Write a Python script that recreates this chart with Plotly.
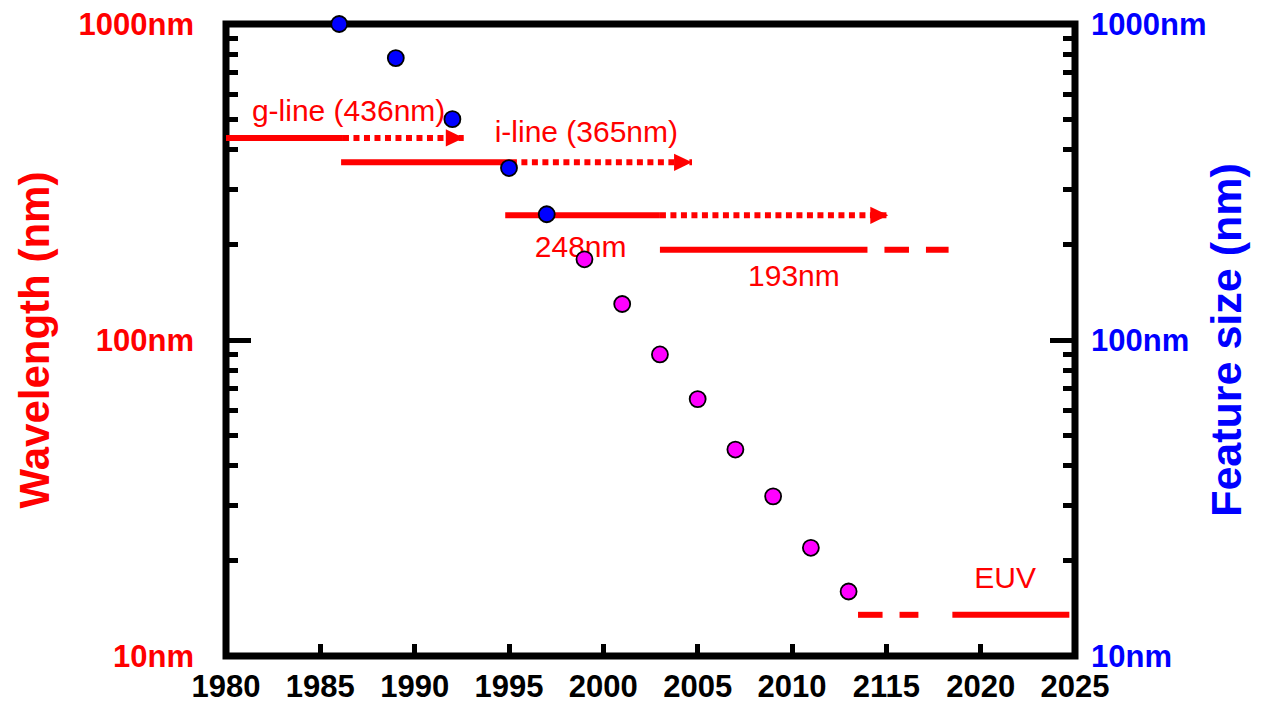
import plotly.graph_objects as go

# Minimum feature size by year (nm)
years_blue = [1986, 1989, 1992, 1995, 1997]
size_blue = [1000, 780, 500, 350, 250]
years_magenta = [1999, 2001, 2003, 2005, 2007, 2009, 2011, 2013]
size_magenta = [180, 130, 90, 65, 45, 32, 22, 16]

# Exposure wavelengths (nm) and the years each one spans
g_line_nm = 436
g_solid = [1980, 1986.2]
g_dotted = [1986.2, 1992.6]

i_line_nm = 365
i_solid = [1986.1, 1995.1]
i_dotted = [1995.1, 2004.7]

krf_nm = 248
krf_solid = [1994.8, 2003.0]
krf_dotted = [2003.0, 2015.1]

arf_nm = 193
arf_solid = [2003.0, 2014.0]
arf_dashes = [2014.9, 2016.2, None, 2017.1, 2018.3]

euv_nm = 13.5
euv_dashes = [2013.5, 2014.8, None, 2015.7, 2016.7]
euv_solid = [2018.5, 2024.7]

# Text labels: (text, year, nm)
label_text = ["g-line (436nm)", "i-line (365nm)", "248nm", "193nm", "EUV"]
label_year = [1986.5, 1999.1, 1998.8, 2010.1, 2021.3]
label_nm = [522, 446, 194, 156, 17.3]

# Axis ticks
x_tickvals = [1980, 1985, 1990, 1995, 2000, 2005, 2010, 2015, 2020, 2025]
x_ticktext = ["1980", "1985", "1990", "1995", "2000", "2005", "2010", "2115", "2020", "2025"]
y_tickvals = [10, 100, 1000]
y_ticktext = ["10nm", "100nm", "1000nm"]
y_minor = [20, 30, 40, 50, 60, 70, 80, 90, 200, 300, 400, 500, 600, 700, 800, 900]

RED = "#ff0000"
BLUE = "#0000ff"
MAGENTA = "#ff00ff"
FONT = "Liberation Sans, Arial, sans-serif"
LINE_W = 6
ARROW_LEN = 0.95      # arrowhead length in years
ARROW_SPREAD = 1.065  # arrowhead half-height as a log-scale factor

fig = go.Figure()


def solid(xs, nm):
    fig.add_trace(go.Scatter(
        x=xs, y=[None if x is None else nm for x in xs], mode="lines",
        line=dict(color=RED, width=LINE_W), hoverinfo="skip",
        showlegend=False, connectgaps=False))


def dotted_arrow(xs, nm):
    fig.add_trace(go.Scatter(
        x=xs, y=[nm, nm], mode="lines",
        line=dict(color=RED, width=LINE_W, dash="6px,4.5px"),
        hoverinfo="skip", showlegend=False))
    tip = xs[-1]
    fig.add_trace(go.Scatter(
        x=[tip, tip - ARROW_LEN, tip - ARROW_LEN, tip],
        y=[nm, nm * ARROW_SPREAD, nm / ARROW_SPREAD, nm],
        mode="lines", fill="toself", fillcolor=RED,
        line=dict(color=RED, width=0), hoverinfo="skip", showlegend=False))


solid(g_solid, g_line_nm)
dotted_arrow(g_dotted, g_line_nm)
solid(i_solid, i_line_nm)
dotted_arrow(i_dotted, i_line_nm)
solid(krf_solid, krf_nm)
dotted_arrow(krf_dotted, krf_nm)
solid(arf_solid, arf_nm)
solid(arf_dashes, arf_nm)
solid(euv_dashes, euv_nm)
solid(euv_solid, euv_nm)

# Labels sit beneath the feature-size markers
fig.add_trace(go.Scatter(
    x=label_year, y=label_nm, mode="text", text=label_text,
    textposition="middle center",
    textfont=dict(family=FONT, size=30, color=RED),
    hoverinfo="skip", showlegend=False, cliponaxis=False))

fig.add_trace(go.Scatter(
    x=years_blue, y=size_blue, mode="markers", yaxis="y2",
    marker=dict(size=16, color=BLUE, line=dict(color="black", width=1.8)),
    showlegend=False, cliponaxis=False))
fig.add_trace(go.Scatter(
    x=years_magenta, y=size_magenta, mode="markers", yaxis="y2",
    marker=dict(size=16, color=MAGENTA, line=dict(color="black", width=1.8)),
    showlegend=False, cliponaxis=False))

tick_common = dict(
    ticks="inside", tickwidth=5, tickcolor="black",
    showgrid=False, zeroline=False, showline=False, automargin=False,
)

fig.update_layout(
    width=1269, height=705,
    margin=dict(l=226, r=194, t=24, b=49, autoexpand=False),
    paper_bgcolor="white", plot_bgcolor="white",
    xaxis=dict(
        range=[1980, 2025], tickvals=x_tickvals, ticktext=x_ticktext,
        ticklen=12, ticklabelstandoff=9,
        tickfont=dict(family=FONT, size=31, color="black", weight="bold"),
        **tick_common),
    yaxis=dict(
        type="log", range=[1, 3], tickvals=y_tickvals, ticktext=y_ticktext,
        ticklen=25, ticklabelstandoff=31,
        minor=dict(ticks="inside", ticklen=12, tickwidth=5, tickcolor="black",
                   tickvals=y_minor, showgrid=False),
        tickfont=dict(family=FONT, size=31, color=RED, weight="bold"),
        title=dict(text="Wavelength (nm)", standoff=15,
                   font=dict(family=FONT, size=42, color=RED, weight="bold")),
        **tick_common),
    yaxis2=dict(
        type="log", range=[1, 3], overlaying="y", side="right",
        tickvals=y_tickvals, ticktext=y_ticktext,
        ticklen=25, ticklabelstandoff=15,
        minor=dict(ticks="inside", ticklen=12, tickwidth=5, tickcolor="black",
                   tickvals=y_minor, showgrid=False),
        tickfont=dict(family=FONT, size=31, color=BLUE, weight="bold"),
        title=dict(text="Feature size (nm)", standoff=5,
                   font=dict(family=FONT, size=43, color=BLUE, weight="bold")),
        **tick_common),
    shapes=[dict(type="rect", xref="paper", yref="paper", x0=0, x1=1, y0=0, y1=1,
                 line=dict(color="black", width=7), layer="below")],
)

fig.write_html("out.html")
